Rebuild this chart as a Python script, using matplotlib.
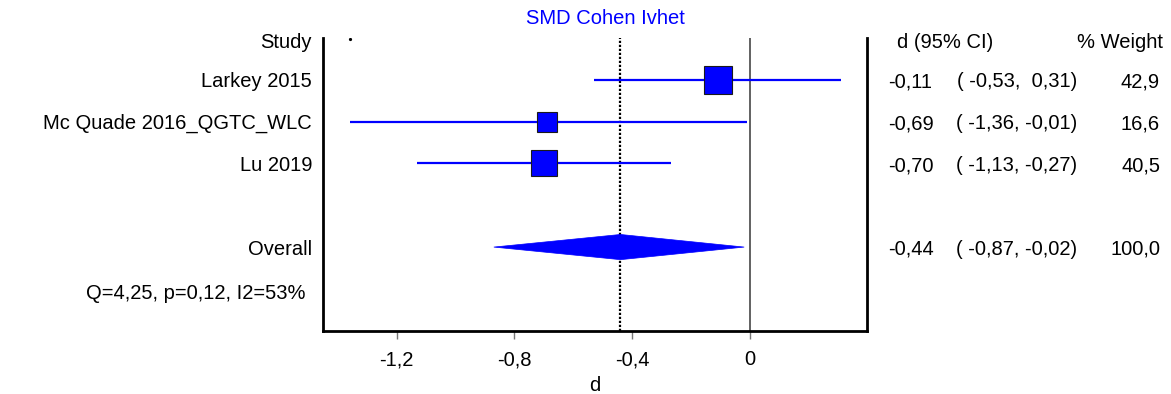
import matplotlib
matplotlib.use("Agg")
import matplotlib.pyplot as plt
import matplotlib.transforms as mtransforms
from matplotlib.patches import Polygon

plt.rcParams['font.family'] = ['Liberation Sans', 'DejaVu Sans']

# ---- data ----
studies = ["Larkey 2015", "Mc Quade 2016_QGTC_WLC", "Lu 2019"]
effect = [-0.11, -0.69, -0.70]
ci_low = [-0.53, -1.36, -1.13]
ci_high = [0.31, -0.01, -0.27]
weight = [42.9, 16.6, 40.5]

overall_label = "Overall"
overall_effect = -0.44
overall_low = -0.87
overall_high = -0.02
overall_weight = 100.0

het_text = "Q=4,25, p=0,12, I2=53%"
title_text = "SMD Cohen Ivhet"
xticks = [-1.2, -0.8, -0.4, 0.0]
xlabel_text = "d"

W, H, DPI = 1171, 394, 100
BLUE = "#0000FF"
FS = 14.5


def comma(v, fmt):
    return format(v, fmt).replace(".", ",")


def fx(px):
    return px / W


def fy(py):
    return 1 - py / H


fig = plt.figure(figsize=(W / DPI, H / DPI), dpi=DPI)
ax = fig.add_axes([fx(323), fy(330.7), fx(866.7) - fx(323), fy(38) - fy(330.7)])

ax.set_xlim(-1.45, 0.396)
ax.set_ylim(7, 0)

rows = [1, 2, 3]
overall_row = 5
row_px = 41.5  # pixel height of one row

# reference lines
ax.axvline(0, color="#555555", lw=1.3, zorder=1)
ax.axvline(overall_effect, color="black", lw=1.6, ls=(0, (1, 0.8)), zorder=1)

# confidence intervals and weighted boxes
for r, e, lo, hi, w in zip(rows, effect, ci_low, ci_high, weight):
    ax.plot([lo, hi], [r, r], color=BLUE, lw=1.6, zorder=2, solid_capstyle="butt")
    side_px = 27 * (w / 42.9) ** 0.33
    ax.plot([e], [r], marker="s", ms=side_px * 72 / DPI, mfc=BLUE,
            mec="#1a1a1a", mew=0.8, zorder=3)

# small mark at top at the widest lower bound
ax.plot([min(ci_low)], [0.03], marker="o", ms=1.3, color="black", zorder=3)

# pooled estimate diamond
h = 12.5 / row_px
diamond = Polygon([(overall_low, overall_row), (overall_effect, overall_row - h),
                   (overall_high, overall_row), (overall_effect, overall_row + h)],
                  closed=True, facecolor=BLUE, edgecolor=BLUE, lw=0.5, zorder=3)
ax.add_patch(diamond)

# axes styling
for s in ["left", "right", "bottom"]:
    ax.spines[s].set_linewidth(2.0)
    ax.spines[s].set_color("black")
ax.spines["top"].set_visible(False)
ax.set_yticks([])
ax.set_xticks(xticks)
ax.set_xticklabels([comma(t, ".1f") if t != 0 else "0" for t in xticks], fontsize=FS)
ax.tick_params(axis="x", direction="out", length=6, width=1.0, color="#777777", pad=8)
ax.set_xlabel(xlabel_text, fontsize=FS, labelpad=5)

fig.text(fx(605), fy(19), title_text, color=BLUE, fontsize=FS, ha="center", va="center")

tr = mtransforms.blended_transform_factory(fig.transFigure, ax.transData)

# left column: study labels
ax.text(fx(312), 0.1, "Study", transform=tr, ha="right", va="center", fontsize=FS)
for r, name in zip(rows, studies):
    ax.text(fx(312), r + 0.05, name, transform=tr, ha="right", va="center", fontsize=FS)
ax.text(fx(312), overall_row + 0.05, overall_label, transform=tr, ha="right", va="center", fontsize=FS)
ax.text(fx(306), 6.1, het_text, transform=tr, ha="right", va="center", fontsize=FS)

# right columns: estimates, intervals, weights
ax.text(fx(897), 0.1, "d (95% CI)", transform=tr, ha="left", va="center", fontsize=FS)
ax.text(fx(1163), 0.1, "% Weight", transform=tr, ha="right", va="center", fontsize=FS)

all_rows = rows + [overall_row]
all_eff = effect + [overall_effect]
all_lo = ci_low + [overall_low]
all_hi = ci_high + [overall_high]
all_w = weight + [overall_weight]
for r, e, lo, hi, w in zip(all_rows, all_eff, all_lo, all_hi, all_w):
    ax.text(fx(888), r + 0.05, comma(e, "5.2f"), transform=tr, ha="left", va="center", fontsize=FS)
    ax.text(fx(1017), r + 0.05, "( " + comma(lo, "5.2f") + ", " + comma(hi, "5.2f") + ")",
            transform=tr, ha="center", va="center", fontsize=FS)
    ax.text(fx(1160), r + 0.05, comma(w, ".1f"), transform=tr, ha="right", va="center", fontsize=FS)

fig.savefig("out.png", dpi=DPI)
